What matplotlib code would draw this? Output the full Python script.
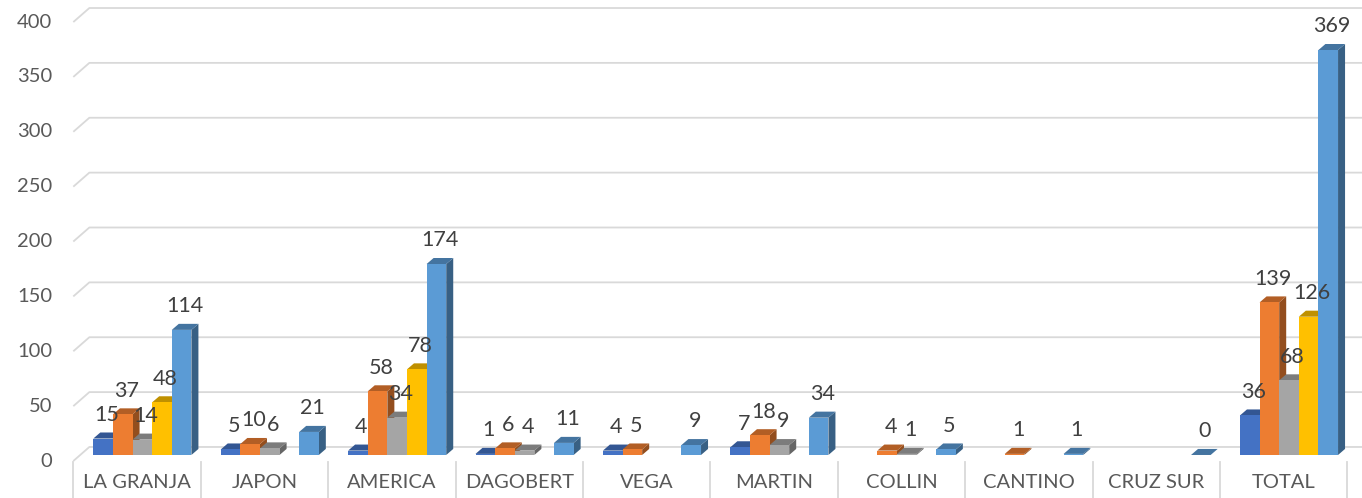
import numpy as np
import matplotlib.pyplot as plt
from matplotlib.patches import Polygon
from matplotlib.colors import to_rgb

plt.rcParams['font.family'] = ['Lato', 'DejaVu Sans']

categories = ["LA GRANJA", "JAPON", "AMERICA", "DAGOBERT", "VEGA",
              "MARTIN", "COLLIN", "CANTINO", "CRUZ SUR", "TOTAL"]
serie_1 = [15, 5, 4, 1, 4, 7, None, None, None, 36]
serie_2 = [37, 10, 58, 6, 5, 18, 4, 1, None, 139]
serie_3 = [14, 6, 34, 4, None, 9, 1, None, None, 68]
serie_4 = [48, None, 78, None, None, None, None, None, None, 126]
serie_5 = [114, 21, 174, 11, 9, 34, 5, 1, 0, 369]
series = [serie_1, serie_2, serie_3, serie_4, serie_5]
colors = ["#4472C4", "#ED7D31", "#A5A5A5", "#FFC000", "#5B9BD5"]
yticks = list(range(0, 401, 50))

# pseudo-3D geometry (data units)
wall_dx, wall_dy = 0.126, 12.8      # depth of the floor / left wall
bar_dx, bar_dy = 0.055, 5.5         # depth of each column
bar_base = -7.3
bar_w = 0.154
group_shift = 0.042


def shade(c, f):
    r, g, b = to_rgb(c)
    return (r * f, g * f, b * f)


fig = plt.figure(figsize=(13.62, 4.98), dpi=100)
ax = fig.add_axes([0, 0, 1, 1])
ax.set_xlim(-1.0754, 9.615)
ax.set_ylim(-46.5, 407.3)
ax.axis("off")

grid_col = "#D9D9D9"
x_right = 9.615
for v in yticks:
    ax.plot([-0.5, -0.5 + wall_dx, x_right], [v - wall_dy, v, v],
            color=grid_col, lw=1.3, zorder=1, solid_capstyle="butt")
    ax.text(-0.667, v - wall_dy, str(v), ha="right", va="center",
            fontsize=14.5, color="#595959")

for b in np.arange(len(categories) + 1) - 0.5:
    ax.plot([b, b], [-wall_dy - 1.2, -46.5], color=grid_col, lw=1.3, zorder=1)

x = np.arange(len(categories))
for i, cat in enumerate(categories):
    ax.text(i, -32.8, cat, ha="center", va="center", fontsize=14.5, color="#595959")

for i in range(len(categories)):
    for j, (vals, col) in enumerate(zip(series, colors)):
        v = vals[i]
        if v is None:
            continue
        left = i + group_shift + (j - 2.5) * bar_w
        top = bar_base + v
        z = 3 + i * 0.01 + j * 0.001
        right = left + bar_w
        side = Polygon([(right, bar_base), (right + bar_dx, bar_base + bar_dy),
                        (right + bar_dx, top + bar_dy), (right, top)],
                       closed=True, fc=shade(col, 0.62), ec="none", zorder=z)
        cap = Polygon([(left, top), (left + bar_dx, top + bar_dy),
                       (right + bar_dx, top + bar_dy), (right, top)],
                      closed=True, fc=shade(col, 0.75), ec="none", zorder=z)
        ax.add_patch(side)
        ax.add_patch(cap)
        ax.bar(left, v, width=bar_w, bottom=bar_base, align="edge",
               color=col, zorder=z + 0.0005, lw=0)
        ax.annotate(str(v), (left + bar_w / 2 + bar_dx / 2, top),
                    xytext=(0, 17), textcoords="offset points",
                    ha="center", va="center", fontsize=15.5,
                    color="#404040", zorder=10)

fig.savefig("out.png", dpi=100)
